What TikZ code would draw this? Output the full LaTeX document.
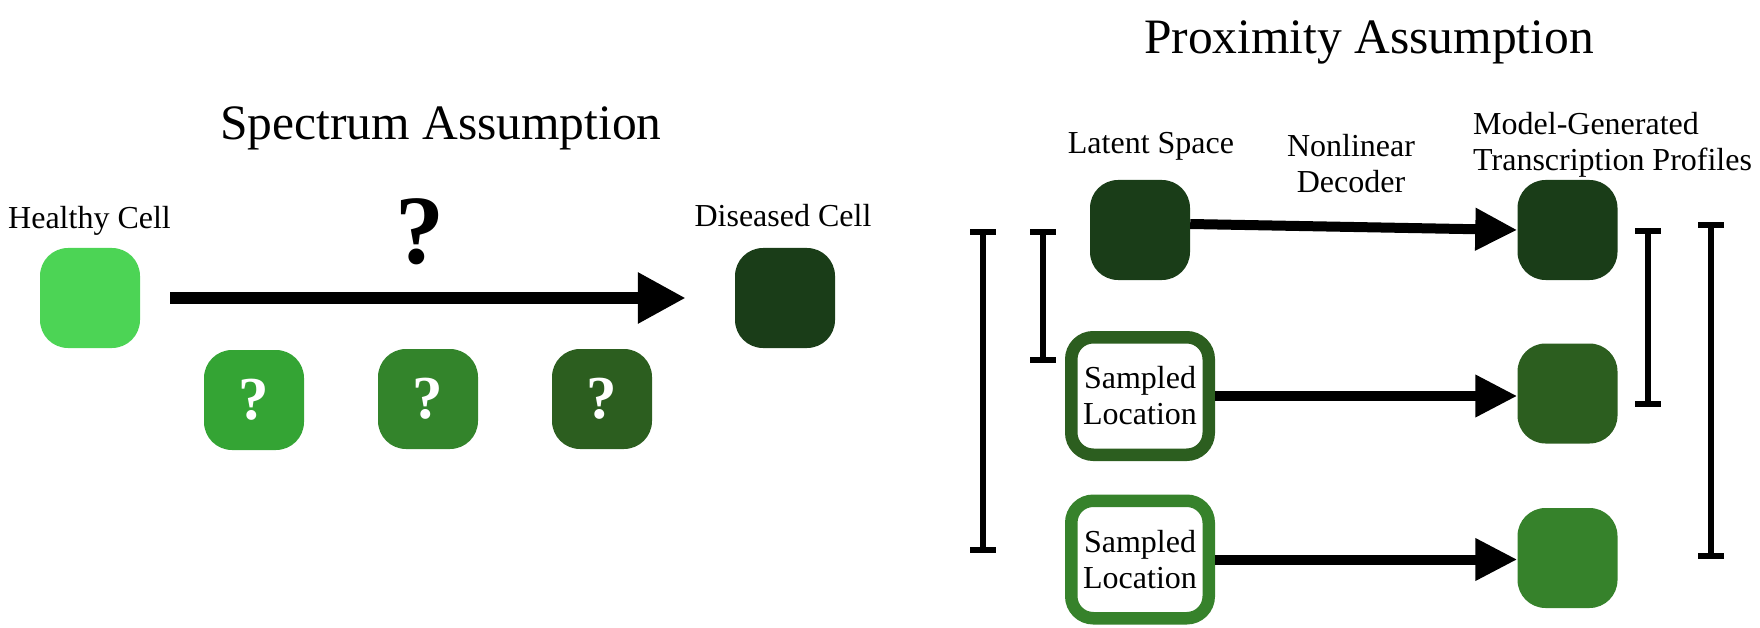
\documentclass[tikz,border=0pt]{standalone}
\usepackage{fontspec}
\setmainfont{Liberation Serif}
\usetikzlibrary{arrows.meta}
\definecolor{healthy}{HTML}{4CD455}
\definecolor{qa}{HTML}{34A434}
\definecolor{qb}{HTML}{33842B}
\definecolor{qc}{HTML}{2C5E1F}
\definecolor{dis}{HTML}{1A3D18}
\definecolor{midg}{HTML}{2C5E1F}
\definecolor{liteg}{HTML}{36822B}
\newcommand{\ibeam}[3]{\draw[ibeam] (#1-13,#2) -- (#1+13,#2) (#1,#2) -- (#1,#3) (#1-13,#3) -- (#1+13,#3);}
\begin{document}
\begin{tikzpicture}[x=1pt,y=-1pt,
  cell/.style={minimum width=100pt, minimum height=100pt, rounded corners=28pt, inner sep=0pt, draw=none},
  qmark/.style={text=white, font=\fontsize{61}{61}\selectfont\bfseries},
  label/.style={inner sep=0pt, font=\fontsize{32}{36}\selectfont},
  title/.style={inner sep=0pt, font=\fontsize{49.5}{55}\selectfont},
  sampled/.style={minimum width=137.5pt, minimum height=117.5pt, line width=12.5pt, rounded corners=22pt, fill=white, inner sep=0pt, align=center, font=\fontsize{32}{36}\selectfont},
  bigarrow/.style={line width=12pt, -{Triangle[length=48pt,width=48pt]}},
  arrow/.style={line width=10pt, -{Triangle[length=42pt,width=40pt]}},
  ibeam/.style={line width=6pt, line cap=butt}
]
\useasboundingbox (0,0) rectangle (1760,628);
% ---- Spectrum assumption ----
\node[title, anchor=base] (ttl1) at (441,140) {Spectrum Assumption};
\node[label, anchor=base west] (hl) at (8,229) {Healthy Cell};
\node[label, anchor=base] (dl) at (783,227) {Diseased Cell};
\node[cell, fill=healthy] (healthy) at (90,298) {};
\node[cell, fill=dis] (diseased) at (785,298) {};
\node[cell, fill=qa, qmark] (q1) at (254,400) {?};
\node[cell, fill=qb, qmark] (q2) at (428,399) {?};
\node[cell, fill=qc, qmark] (q3) at (602,399) {?};
\node[inner sep=0pt, font=\fontsize{98}{98}\selectfont\bfseries] (bq) at (420,232) {?};
\draw[bigarrow] ([xshift=30pt]healthy.east) -- ([xshift=-49pt]diseased.west);
% ---- Proximity assumption ----
\node[title, anchor=base] (ttl2) at (1369,54) {Proximity Assumption};
\node[label, anchor=base] (ll) at (1151,154) {Latent Space};
\node[label, anchor=base, align=center] (nd) at (1351,193) {Nonlinear\\Decoder};
\node[label, anchor=base west, align=left] (mg) at (1473,171) {Model-Generated\\Transcription Profiles};
\node[cell, fill=dis] (latent) at (1140,230) {};
\node[sampled, draw=midg] (s1) at (1140,396) {Sampled\\Location};
\node[sampled, draw=liteg] (s2) at (1140,559.5) {Sampled\\Location};
\node[cell, fill=dis] (m1) at (1567.5,230) {};
\node[cell, fill=midg] (m2) at (1567.5,393.5) {};
\node[cell, fill=liteg] (m3) at (1567.5,558) {};
\draw[arrow] ([yshift=6pt]latent.east) -- (m1.west);
\draw[arrow] (s1.east) -- (s1.east -| m2.west);
\draw[arrow] (s2.east) -- (s2.east -| m3.west);
\ibeam{983}{232}{550}
\ibeam{1043}{232}{360}
\ibeam{1648}{231}{404}
\ibeam{1711}{225}{556}
\end{tikzpicture}
\end{document}
